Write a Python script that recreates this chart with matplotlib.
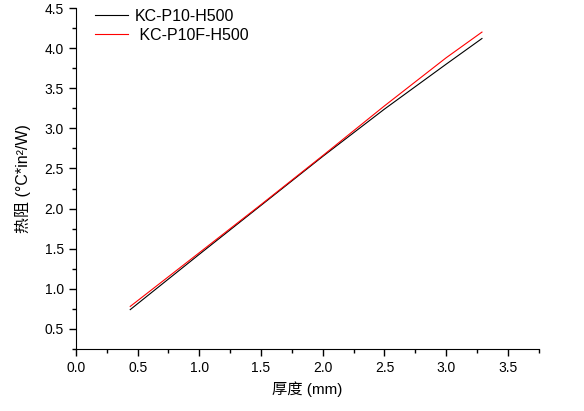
import numpy as np
import matplotlib
matplotlib.use("Agg")
import matplotlib.pyplot as plt
from matplotlib.ticker import MultipleLocator, FormatStrFormatter

plt.rcParams['font.family'] = ['Liberation Sans', 'Noto Sans CJK SC', 'DejaVu Sans']

# thickness (mm) and thermal resistance
thickness = [0.44, 1.0, 1.5, 2.0, 2.5, 3.0, 3.29]
res_p10 = [0.74, 1.43, 2.04, 2.65, 3.24, 3.80, 4.12]
res_p10f = [0.78, 1.45, 2.05, 2.66, 3.28, 3.88, 4.20]
labels = ["KC-P10-H500", " KC-P10F-H500"]

fig = plt.figure(figsize=(5.84, 4.11), dpi=100)
ax = fig.add_axes([0.130, 0.151, 0.7925, 0.8295])

ax.plot(thickness, res_p10, color='black', lw=0.8, label=labels[0])
ax.plot(thickness, res_p10f, color='red', lw=0.8, label=labels[1])

ax.set_xlim(0, 3.75)
ax.set_ylim(0.25, 4.5)
ax.xaxis.set_major_locator(MultipleLocator(0.5))
ax.xaxis.set_minor_locator(MultipleLocator(0.25))
ax.yaxis.set_major_locator(MultipleLocator(0.5))
ax.yaxis.set_minor_locator(MultipleLocator(0.25))
ax.xaxis.set_major_formatter(FormatStrFormatter('%.1f'))
ax.yaxis.set_major_formatter(FormatStrFormatter('%.1f'))
ax.set_yticks(np.arange(0.5, 4.51, 0.5))

for s in ['top', 'right']:
    ax.spines[s].set_visible(False)
ax.tick_params(which='major', direction='out', length=5, width=1, labelsize=10)
ax.tick_params(which='minor', direction='out', length=3, width=1)

ax.set_xlabel("厚度 (mm)", fontsize=11, labelpad=5)
ax.set_ylabel("热阻 (°C*in²/W)", fontsize=11.5, labelpad=10)

ax.legend(loc='upper left', bbox_to_anchor=(0.01, 1.04), frameon=False,
          fontsize=11.5, handlelength=2.05, handletextpad=0.45, labelspacing=0.25)

fig.savefig("out.png", dpi=100)
